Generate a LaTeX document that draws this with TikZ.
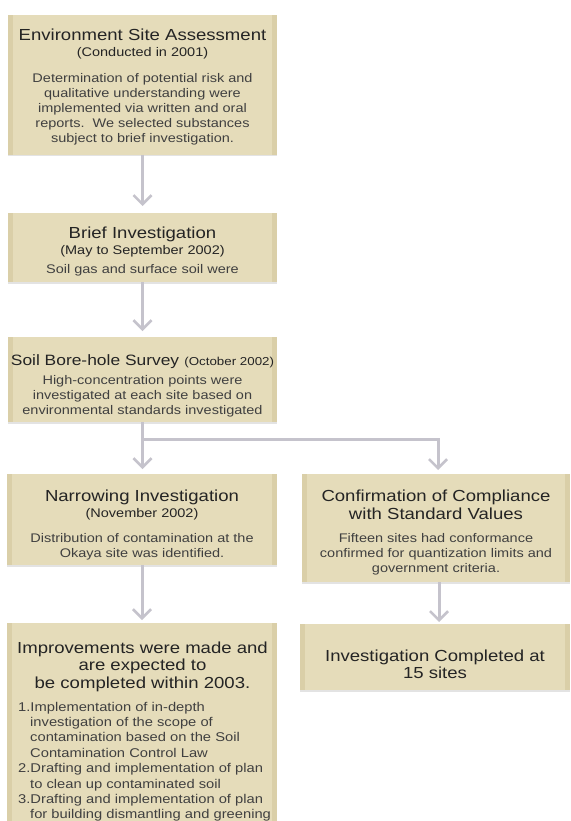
\documentclass[tikz,border=0pt]{standalone}
\usepackage{fontspec}
\setmainfont{Liberation Sans}[FakeStretch=1.16]
\usetikzlibrary{arrows.meta,shadows}
\definecolor{boxfill}{RGB}{229,220,186}
\definecolor{boxedge}{RGB}{218,207,168}
\definecolor{conncol}{RGB}{197,195,204}
\definecolor{ttlcol}{RGB}{36,36,36}
\definecolor{bodycol}{RGB}{64,64,64}
\begin{document}
\begin{tikzpicture}[x=1pt,y=-1pt,
  flowbox/.style={rectangle, fill=boxfill, inner sep=0pt, outer sep=0pt,
    drop shadow={shadow xshift=0pt, shadow yshift=-1.5pt, opacity=0.18, fill=black!60},
    path picture={
      \fill[boxedge] (path picture bounding box.north west) rectangle ([xshift=5pt]path picture bounding box.south west);
      \fill[boxedge] (path picture bounding box.north east) rectangle ([xshift=-5pt]path picture bounding box.south east);}},
  ttl/.style={font=\fontsize{16}{17.5}\selectfont, text=ttlcol, inner sep=0pt, anchor=base},
  sub/.style={font=\fontsize{12.5}{15}\selectfont, text=ttlcol, inner sep=0pt, anchor=base},
  bdy/.style={font=\fontsize{12.5}{15}\selectfont, text=bodycol, inner sep=0pt, anchor=base},
  lst/.style={font=\fontsize{12.7}{15.4}\selectfont, text=bodycol, inner sep=0pt, anchor=base west},
  conn/.style={draw=conncol, line width=3pt},
  arr/.style={conn, -{Straight Barb[length=9pt, width=18pt, line width=2.6pt]}}
]
\useasboundingbox (0,0) rectangle (570,821);
\fill[white] (0,0) rectangle (570,821);

% boxes
\node[flowbox, minimum width=269pt, minimum height=140pt] (b1) at (142.5,85) {};
\node[flowbox, minimum width=269pt, minimum height=69pt] (b2) at (142.5,247.5) {};
\node[flowbox, minimum width=269pt, minimum height=85pt] (b3) at (142.5,379.5) {};
\node[flowbox, minimum width=270pt, minimum height=91pt] (b4) at (142,519.5) {};
\node[flowbox, minimum width=268pt, minimum height=108pt] (b5) at (436,528) {};
\node[flowbox, minimum width=270pt, minimum height=200pt] (b6) at (142,723) {};
\node[flowbox, minimum width=270pt, minimum height=66pt] (b7) at (435,657) {};

% connectors
\draw[arr, shorten >=7pt] (b1.south) -- (b2.north);
\draw[arr, shorten >=6pt] (b2.north |- b2.south) -- (b3.north);
\coordinate (j) at (142.5,439);
\draw[conn] (b3.south) -- (j);
\draw[arr, shorten >=5pt] (j) -- (b4.north -| j);
\draw[arr, shorten >=4pt] (j) -| ([xshift=2pt]b5.north);
\draw[arr, shorten >=3pt] (b4.south) -- (b6.north);
\draw[arr, shorten >=2pt] ([xshift=3pt]b5.south) -- ([xshift=3pt]b7.north -| b5.south);

% box 1
\node[ttl] (t1a) at (142.5,40.5) {Environment Site Assessment};
\node[sub] (t1b) at (142.5,57) {(Conducted in 2001)};
\node[bdy] (t1c) at (142.5,83) {Determination of potential risk and};
\node[bdy] (t1d) at (142.5,98) {qualitative understanding were};
\node[bdy] (t1e) at (142.5,113) {implemented via written and oral};
\node[bdy] (t1f) at (142.5,128) {reports.\ \ We selected substances};
\node[bdy] (t1g) at (142.5,143) {subject to brief investigation.};

% box 2
\node[ttl] (t2a) at (142.5,238) {Brief Investigation};
\node[sub] (t2b) at (142.5,254) {(May to September 2002)};
\node[bdy] (t2c) at (142.5,273) {Soil gas and surface soil were};

% box 3
\node[ttl] (t3a) at (142.5,365) {{\fontsize{15}{17}\selectfont Soil Bore-hole Survey} {\fontsize{11.5}{14}\selectfont(October 2002)}};
\node[bdy] (t3b) at (142.5,384.5) {High-concentration points were};
\node[bdy] (t3c) at (142.5,399.5) {investigated at each site based on};
\node[bdy] (t3d) at (142.5,414.5) {environmental standards investigated};

% box 4
\node[ttl] (t4a) at (142,501) {Narrowing Investigation};
\node[sub] (t4b) at (142,517) {(November 2002)};
\node[bdy] (t4c) at (142,542) {Distribution of contamination at the};
\node[bdy] (t4d) at (142,557) {Okaya site was identified.};

% box 5
\node[ttl] (t5a) at (436,501) {Confirmation of Compliance};
\node[ttl] (t5b) at (436,519) {with Standard Values};
\node[bdy] (t5c) at (436,542) {Fifteen sites had conformance};
\node[bdy] (t5d) at (436,557) {confirmed for quantization limits and};
\node[bdy] (t5e) at (436,572) {government criteria.};

% box 6
\node[ttl] (t6a) at (142.5,653) {Improvements were made and};
\node[ttl] (t6b) at (142.5,670.5) {are expected to};
\node[ttl] (t6c) at (142.5,688) {be completed within 2003.};
\node[lst] (l1) at (18,711) {1.Implementation of in-depth};
\node[lst] (l2) at (30,726.4) {investigation of the scope of};
\node[lst] (l3) at (30,741.8) {contamination based on the Soil};
\node[lst] (l4) at (30,757.2) {Contamination Control Law};
\node[lst] (l5) at (18,772.6) {2.Drafting and implementation of plan};
\node[lst] (l6) at (30,788) {to clean up contaminated soil};
\node[lst] (l7) at (18,803.4) {3.Drafting and implementation of plan};
\node[lst] (l8) at (30,818.8) {for building dismantling and greening};

% box 7
\node[ttl] (t7a) at (435,661) {Investigation Completed at};
\node[ttl] (t7b) at (435,678) {15 sites};
\end{tikzpicture}
\end{document}
